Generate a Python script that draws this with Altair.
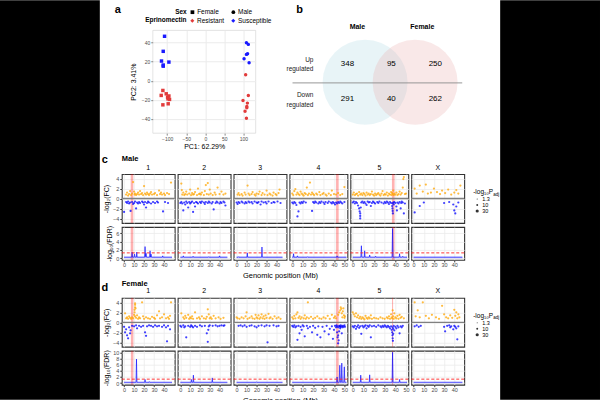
import altair as alt
import pandas as pd

FONT = "Liberation Sans"
GRID = "#ebebeb"
BORDER = "#333333"
TICKLAB = "#4d4d4d"
ORANGE = "#FFA500"
BLUE = "#0000FF"

# ---------------- panel a : PCA ----------------
PCA_PC1 = [-107, -110.5, -115, -110.5, -110.5, -95.6,
           -111.4, -115.8, -102.6, -99, -95.6, -98, -93.9, -111.4, -97.4,
           108, 113, 108, 111, 101.8, 115,
           106, 113, 99, 110.5, 109, 109, 104.4, 108]
PCA_PC2 = [46.7, 30.9, 20.7, 16.5, 15.3, 19.6,
           -10.2, -15.4, -13.7, -17.2, -16, -19, -19.6, -25.3, -24.2,
           40, 38.2, 27.7, 28.4, 23.2, 19,
           6.3, -15.4, -20.7, -23.5, -27, -28.4, -32, -39.3]
PCA_SEX = ["Female"] * 15 + ["Male"] * 14
PCA_GROUP = ["Susceptible"] * 6 + ["Resistant"] * 9 + ["Susceptible"] * 6 + ["Resistant"] * 8

# ---------------- panel b : Venn ----------------
VENN_SETS = ["Male", "Female"]
VENN_UP = [348, 95, 250]
VENN_DOWN = [291, 40, 262]

# ---------------- panels c/d ----------------
CHROMS = ["1", "2", "3", "4", "5", "X"]
CHR_DOMAIN = [[-2.3, 50.7], [-2.7, 51.3], [-3.0, 50.0], [-2.6, 52.9], [-2.2, 52.2], [-2.3, 49.8]]
CHR_WIDTH = [53, 53, 53, 58, 58, 53]
CHR_TICKS = [[0, 10, 20, 30, 40], [0, 10, 20, 30, 40], [0, 10, 20, 30, 40],
             [0, 10, 20, 30, 40, 50], [0, 10, 20, 30, 40, 50], [0, 10, 20, 30, 40]]
PADJ_LEVELS = [1.3, 10, 30]

# Male log2FC (position Mb, value)
M1_UP = [(2,0.8),(3,1.2),(4,0.6),(5,0.9),(6,1.5),(7,0.7),(8,1.0),(9,3.3),(10,1.4),(10.5,0.8),(11,1.0),(12,0.7),(13,0.9),(14,1.2),(15,0.8),(16,1.5),(17,0.9),(18,1.1),(19,0.7),(20,2.5),(21,1.0),(22,0.8),(23,1.2),(24,0.9),(25,0.7),(26,1.0),(27,1.3),(28,0.8),(30,0.9),(31,1.1),(33,0.7),(35,1.6),(36,0.9),(37,1.2),(38,0.8),(40,1.0),(41,0.7),(43,1.1),(45,0.9),(47,3.2)]
M1_DN = [(0,-2.7),(2,-0.7),(3,-0.9),(4,-0.6),(5,-1.0),(6,-0.8),(6.5,-2.5),(8,-0.7),(9,-1.1),(10,-0.9),(11,-0.6),(12,-2.0),(13,-0.8),(14,-1.0),(15,-0.7),(16,-0.9),(18,-0.6),(19,-0.8),(20,-1.2),(21,-0.7),(22,-1.8),(23,-0.9),(24,-0.6),(25,-0.8),(27,-1.0),(29,-0.7),(31,-0.9),(33,-0.6),(34,-0.8),(39,-2.6),(41,-0.7),(44,-0.9)]
M2_UP = [(1,3.0),(1.5,1.7),(2,0.8),(3,1.2),(4,0.7),(5,0.9),(6,1.4),(7,0.8),(9,1.0),(10,1.8),(11,0.7),(12,1.1),(13,0.8),(14,0.9),(15,1.3),(17,0.7),(18,2.0),(19,0.9),(20,1.0),(21,0.8),(22,1.2),(24,0.7),(25,1.5),(26,2.7),(27,0.9),(28,3.1),(29,0.8),(30,1.8),(31,1.0),(33,0.7),(35,1.2),(36,0.8),(38,2.2),(40,0.9),(42,1.4),(44,0.8),(46,1.0)]
M2_DN = [(0,-0.9),(1,-0.7),(2,-1.0),(3,-2.4),(4,-0.8),(5,-1.2),(6,-0.6),(7,-0.9),(8,-1.8),(9,-0.7),(10,-1.0),(11,-0.8),(12,-0.6),(13,-2.7),(14,-0.9),(15,-1.6),(16,-0.7),(17,-0.8),(18,-1.0),(20,-0.7),(21,-0.9),(22,-0.6),(24,-0.8),(25,-1.1),(26,-0.7),(28,-0.9),(29,-0.6),(30,-0.8),(32,-1.0),(33,-0.7),(34,-2.2),(36,-0.9),(37,-0.6),(38,-0.8),(40,-1.0),(41,-0.7),(42,-0.9),(44,-0.6),(45,-0.8),(46,-1.4)]
M3_UP = [(1,0.8),(2,1.1),(3,0.7),(5,0.9),(6,0.6),(8,1.2),(9,0.8),(11,2.6),(12,1.0),(13,0.7),(15,0.9),(16,1.3),(18,0.8),(19,0.6),(20,1.0),(22,0.9),(23,1.4),(25,0.7),(26,1.1),(28,0.8),(30,1.6),(31,0.7),(33,1.0),(34,0.8),(36,0.6),(37,1.2),(39,0.9),(40,0.7),(42,1.1),(43,1.8)]
M3_DN = [(0,-0.8),(1,-1.1),(2,-0.7),(3,-0.9),(5,-0.6),(6,-0.8),(8,-1.0),(9,-0.7),(10,-0.9),(12,-0.6),(13,-0.8),(15,-0.7),(16,-1.0),(18,-0.6),(20,-0.8),(21,-0.9),(22,-0.7),(24,-1.2),(25,-0.6),(27,-0.8),(29,-0.7),(30,-1.0),(32,-0.6),(35,-0.9),(37,-0.7),(38,-0.8),(41,-0.6),(44,-0.9)]
M4_UP = [(0,1.0),(1,0.7),(2,1.5),(3,1.9),(4,0.8),(5,1.2),(6,0.9),(7,0.7),(8,1.4),(9,1.0),(10,0.8),(11,0.6),(12,1.1),(13,0.9),(14,2.2),(15,0.7),(16,1.0),(17,3.2),(18,0.8),(19,1.2),(20,0.9),(21,0.7),(23,1.0),(24,0.8),(26,1.3),(27,0.7),(29,0.9),(30,1.1),(32,0.8),(33,0.6),(35,1.0),(37,0.7),(38,1.6),(40,0.9),(42,0.8),(44,1.1),(46,0.7),(48,0.9),(50,2.3)]
M4_DN = [(0,-0.8),(1,-1.0),(2,-0.7),(3,-0.9),(4,-1.3),(5,-3.6),(6,-2.6),(7,-0.8),(8,-1.0),(9,-0.7),(10,-0.9),(11,-0.6),(13,-0.8),(19,-2.5),(20,-0.7),(21,-0.9),(22,-0.6),(23,-0.8),(25,-1.0),(26,-0.7),(27,-0.9),(28,-0.6),(30,-0.8),(31,-1.1),(32,-0.7),(34,-0.9),(35,-0.6),(37,-0.8),(38,-1.0),(39,-0.7),(40,-0.9),(41,-1.2),(42,-0.8),(43,-1.0),(44,-0.7),(45,-0.9),(46,-0.6),(47,-0.8),(48,-1.0),(50,-0.7)]
M5_UP = [(0,0.8),(1,1.2),(2,0.7),(3,0.9),(4,1.0),(5,0.6),(6,1.3),(7,0.8),(8,1.0),(9,0.7),(10,1.1),(11,0.9),(12,0.6),(13,1.2),(14,0.8),(15,1.0),(16,0.7),(17,0.9),(18,1.4),(19,0.8),(20,0.6),(21,1.0),(22,0.7),(23,0.9),(24,1.1),(25,0.8),(26,0.6),(27,1.0),(28,1.5),(29,0.7),(30,0.9),(31,0.8),(32,1.2),(33,0.6),(34,1.0),(35,0.8),(36,1.3),(36.5,0.7),(37,1.1),(37.5,0.9),(38,1.6),(38.5,0.7),(39,1.0),(40,0.8),(41,1.2),(42,0.7),(43,0.9),(44,1.4),(45,0.8),(46,1.1),(47,2.2),(47.5,3.9),(48,4.3),(49,0.9),(50,1.0)]
M5_DN = [(0,-0.8),(1,-0.6),(2,-1.0),(3,-0.7),(4,-0.9),(5,-1.4),(6,-2.0),(6.5,-2.6),(7,-3.0),(7,-3.5),(7,-4.0),(7.5,-1.8),(8,-0.8),(9,-0.6),(10,-0.9),(11,-0.7),(12,-1.0),(13,-1.3),(14,-0.6),(15,-0.8),(16,-0.7),(17,-1.5),(18,-0.9),(19,-0.6),(20,-0.8),(21,-1.0),(23,-0.7),(24,-0.9),(25,-0.6),(27,-0.8),(29,-1.0),(30,-0.7),(31,-0.9),(32,-0.6),(33,-0.8),(34,-1.1),(35,-0.7),(36,-0.9),(37,-1.5),(37.3,-2.0),(37.5,-2.5),(37.7,-3.0),(37.5,-1.0),(38,-0.8),(38.5,-1.2),(39,-0.7),(40,-0.9),(41,-1.6),(41.5,-2.4),(42,-0.8),(43,-1.0),(44,-0.7),(45,-2.0),(45.5,-0.9),(46,-0.6),(47,-0.8),(48,-3.0),(49,-1.0)]
MX_UP = [(1,2.0),(3,1.0),(6,2.6),(9,1.4),(12,2.8),(14,1.0),(17,1.2),(20,2.0),(23,1.3),(26,0.9),(28,1.6),(31,1.1),(34,1.8),(37,0.8),(40,1.2),(42,1.7),(44,1.0),(46,2.6)]
MX_DN = [(1,-2.8),(6,-1.5),(10,-0.8),(30,-0.9),(35,-0.7),(39,-1.2),(40,-2.4),(41,-3.0),(42,-1.6),(44,-0.8)]

# Male -log10(FDR)
M1_FDR = [(0,0.3),(7.5,0.3),(8,1.5),(8.5,0.3),(10,0.3),(10.5,1.0),(11,0.3),(12.3,0.3),(12.7,1.5),(13.1,0.3),(20.5,0.3),(21,2.8),(21.5,0.4),(22,1.2),(22.5,0.3),(25.5,0.3),(26,1.8),(26.5,0.3),(27,1.0),(27.5,0.3),(38.3,0.3),(38.7,0.6),(39.1,0.3),(48,0.3)]
M2_FDR = [(0,0.3),(2.6,0.3),(3,0.6),(3.4,0.3),(12.6,0.3),(13,0.5),(13.4,0.3),(28.6,0.3),(29,0.4),(29.4,0.3),(39.6,0.3),(40,0.6),(40.4,0.3),(48,0.3)]
M3_FDR = [(0,0.3),(1.6,0.3),(2,0.4),(2.4,0.3),(10.3,0.3),(10.7,1.3),(11.1,0.3),(25,0.3),(25.4,2.7),(25.8,0.3),(46,0.3)]
M4_FDR = [(0,0.3),(0.9,0.3),(1.3,1.1),(1.7,0.3),(4.6,0.3),(5,0.6),(5.4,0.3),(14.3,0.3),(14.7,0.4),(15.1,0.3),(42.6,0.3),(43,0.6),(43.4,0.3),(52,0.3)]
M5_FDR = [(0,0.3),(7.6,0.3),(8.1,3.0),(8.6,0.3),(10.8,0.3),(11.2,1.8),(11.6,0.3),(15.5,0.3),(15.9,0.8),(16.3,0.3),(21.1,0.3),(21.5,0.5),(21.9,0.3),(36.9,0.3),(37.4,7.1),(37.9,0.3),(43.6,0.3),(44,1.1),(44.4,0.3),(46.6,0.3),(47,0.5),(47.4,0.3),(51,0.3)]
MX_FDR = [(0,0.3),(48,0.3)]

# Female log2FC
F1_UP = [(1,1.8),(2,0.8),(3,1.0),(4,0.7),(5,1.2),(6,0.9),(7,0.7),(8,1.0),(9,0.8),(10,1.5),(10.5,2.0),(10.5,2.5),(11,3.0),(11,3.5),(11,3.8),(11.5,2.8),(11,1.2),(12,0.9),(13,1.4),(14,0.7),(15,1.0),(16,0.8),(18,4.0),(19,1.2),(20,0.7),(22,1.0),(24,0.8),(26,0.7),(28,1.1),(30,0.9),(31,0.7),(33,1.4),(35,2.2),(36,0.8),(38,1.0),(40,1.6),(42,0.8),(44,1.0),(45,0.7),(46,1.3),(47,4.0)]
F1_DN = [(0,-0.9),(1,-2.0),(2,-1.4),(3,-2.6),(4,-3.2),(5,-1.0),(6,-2.2),(6.5,-1.6),(8,-0.7),(10,-0.8),(12,-0.6),(13,-1.2),(15,-0.7),(17,-0.9),(19,-0.7),(21,-2.0),(22,-2.7),(23,-0.8),(25,-0.6),(27,-0.7),(29,-0.9),(31,-0.6),(33,-0.8),(35,-0.7),(38,-0.9),(40,-0.6),(42,-1.0),(43,-3.8),(44,-0.7),(46,-1.4)]
F2_UP = [(1,1.8),(3,1.0),(4,0.7),(5,1.3),(6,0.9),(8,1.5),(9,0.7),(10,1.0),(11,0.8),(12,1.2),(13,0.7),(15,2.0),(17,0.8),(19,1.0),(20,0.7),(22,1.2),(24,0.8),(26,0.7),(27,1.1),(28,2.6),(29,1.6),(30,0.8),(31,1.0),(32,0.7),(34,1.3),(36,0.8),(39,1.0),(41,0.7),(44,0.9)]
F2_DN = [(0,-0.7),(1,-0.9),(3,-0.6),(4,-1.0),(5,-0.8),(6,-3.0),(8,-0.7),(10,-0.9),(11,-0.6),(12,-0.8),(13,-1.0),(15,-0.7),(17,-0.9),(20,-0.6),(22,-0.8),(25,-0.7),(27,-2.2),(28,-3.9),(28.5,-1.5),(29,-0.8),(30,-0.6),(33,-0.7),(36,-0.6),(38,-0.8),(40,-0.7),(42,-0.6),(44,-0.7),(45,-0.6)]
F3_UP = [(0,1.0),(1,0.8),(3,0.7),(5,1.0),(7,0.8),(9,1.2),(10,2.0),(11,0.7),(13,0.9),(15,1.2),(16,0.8),(18,0.7),(19,1.5),(20,1.0),(21,0.8),(22,1.4),(23,0.7),(24,1.0),(25,1.6),(26,0.8),(27,1.2),(28,0.7),(29,1.4),(30,0.9),(32,1.7),(33,0.8),(34,1.0),(36,0.7),(38,1.2),(40,0.8),(42,1.0),(44,0.7)]
F3_DN = [(2,-0.7),(4,-0.6),(6,-0.8),(8,-0.6),(10,-0.9),(13,-0.7),(15,-0.6),(18,-0.8),(20,-1.0),(22,-0.7),(25,-0.6),(28,-0.8),(30,-0.6),(31,-4.0),(33,-0.7),(37,-0.6),(40,-0.8),(42,-0.7)]
F4_UP = [(0,1.0),(1,0.7),(2,1.3),(3,0.8),(4,1.6),(5,2.0),(6,0.9),(7,1.2),(8,0.7),(9,1.0),(11,0.8),(12,1.4),(13,0.7),(14,1.0),(15,4.0),(16,0.8),(18,1.1),(20,0.7),(22,0.9),(24,1.2),(26,0.8),(28,0.7),(30,1.0),(32,0.8),(34,1.3),(36,0.7),(38,1.5),(40,0.9),(41,1.2),(42,0.8),(44,1.5),(45,2.0),(46,2.4),(46.5,3.0),(47,2.7),(47.5,1.8),(48,1.0),(48.5,2.2),(49,2.8),(49.5,1.4),(50,0.9),(50.5,1.2)]
F4_DN = [(0,-0.7),(1,-0.9),(2,-0.6),(3,-1.0),(4,-0.8),(5,-3.5),(6,-0.7),(7,-2.2),(8,-0.9),(9,-1.5),(10,-0.6),(11,-0.8),(12,-2.8),(14,-0.7),(15,-1.2),(17,-0.9),(19,-2.0),(20,-0.7),(22,-1.1),(24,-2.5),(25,-0.8),(27,-3.0),(29,-0.9),(31,-1.8),(33,-0.7),(35,-2.4),(36,-1.3),(38,-0.8),(39,-3.3),(40,-1.5),(41,-0.7),(42,-1.0),(42.5,-0.6),(43,-2.0),(43,-0.8),(43.5,-3.0),(44,-4.2),(44,-2.6),(44,-1.0),(44.5,-3.6),(45,-1.8),(45,-0.7),(45.5,-0.8),(46,-1.2),(46,-0.9),(46.5,-0.6),(47,-0.9),(47.5,-2.2),(48,-0.7),(48.5,-1.0),(49,-0.8),(50,-0.6),(50.5,-0.9)]
F5_UP = [(0,2.0),(1,1.6),(2,1.2),(3,1.8),(4,1.0),(5,1.4),(6,0.8),(7,1.1),(8,0.7),(9,1.0),(10,0.8),(11,0.6),(12,1.3),(13,0.9),(14,0.7),(15,1.0),(16,0.8),(17,1.4),(18,0.7),(20,0.9),(22,0.8),(24,0.7),(26,1.0),(28,0.8),(30,0.7),(32,1.0),(33,0.8),(34,1.2),(35,0.7),(36,1.6),(36.5,1.0),(37,0.8),(37.5,2.4),(38,1.2),(38.5,0.7),(39,1.8),(40,1.0),(41,0.8),(42,1.3),(43,0.7),(44,1.5),(45,0.9),(46,1.1),(48,0.8)]
F5_DN = [(0,-0.8),(1,-1.0),(2,-0.7),(3,-1.3),(4,-0.9),(5,-0.6),(6,-1.1),(7,-0.8),(8,-2.3),(9,-0.7),(10,-1.0),(11,-0.8),(12,-0.6),(13,-1.2),(14,-0.7),(15,-0.9),(16,-0.6),(17,-3.0),(18,-0.8),(20,-0.7),(22,-0.9),(24,-0.6),(26,-0.8),(27,-1.0),(28,-0.7),(29,-0.9),(30,-0.6),(31,-0.8),(32,-1.0),(33,-0.7),(34,-0.9),(35,-1.2),(36,-0.8),(36.5,-1.5),(37,-2.0),(37.3,-2.6),(37.5,-3.2),(37.7,-3.7),(37.5,-1.0),(38,-2.3),(38,-1.3),(38.5,-0.7),(39,-1.6),(40,-0.9),(41,-1.2),(42,-0.7),(43,-1.0),(44,-2.2),(45,-0.8),(46,-1.0),(47,-0.7)]
FX_UP = [(1,4.0),(2,1.2),(4,2.4),(6,1.0),(9,4.0),(12,1.3),(15,0.8),(18,1.5),(22,1.0),(25,0.7),(28,3.3),(30,1.6),(32,1.0),(34,0.8),(36,1.4),(38,0.9),(40,2.5),(41,1.3),(42,2.0),(43,0.8),(44,1.6),(45,1.0)]
FX_DN = [(1,-0.8),(3,-0.6),(5,-0.9),(7,-0.7),(30,-0.9),(31,-1.8),(33,-0.7),(35,-0.6),(36,-1.0),(37,-0.8),(39,-1.4),(40,-0.7),(41,-0.9),(42,-1.2),(43,-3.4),(44,-0.8)]

# Female -log10(FDR)
F1_FDR = [(0,0.3),(11.9,0.3),(12.4,7.8),(12.9,0.3),(20.6,0.3),(21,1.2),(21.4,0.3),(24.9,0.3),(25.3,0.5),(25.7,0.3),(48,0.3)]
F2_FDR = [(0,0.3),(10.9,0.3),(11.3,1.2),(11.8,0.3),(12.9,0.3),(13.3,2.6),(13.7,0.3),(32.2,0.3),(32.6,1.7),(33,0.3),(48,0.3)]
F3_FDR = [(0,0.3),(19.6,0.3),(20,0.4),(20.4,0.3),(46,0.3)]
F4_FDR = [(0,0.3),(42.6,0.3),(43,2.0),(43.4,0.3),(45,0.3),(45.6,5.8),(46.2,0.3),(47,0.3),(47.5,6.5),(48,0.3),(49.4,0.3),(49.9,5.3),(50.4,0.3),(52,0.3)]
F5_FDR = [(0,0.3),(7.1,0.3),(7.5,2.6),(7.9,0.3),(15.5,0.3),(15.9,2.7),(16.3,0.3),(36.9,0.3),(37.4,10.0),(37.9,0.3),(43.6,0.3),(44,1.2),(44.4,0.3),(51,0.3)]
FX_FDR = [(0,0.3),(48,0.3)]

# QTL bands (start, end Mb) per chromosome, None when absent
MALE_BANDS = [(6.6, 9.2), None, None, (42.0, 44.5), (36.8, 39.3), None]
FEMALE_BANDS = [(6.8, 9.3), None, None, (42.0, 44.5), (36.9, 37.9), None]

MALE_UP = [M1_UP, M2_UP, M3_UP, M4_UP, M5_UP, MX_UP]
MALE_DN = [M1_DN, M2_DN, M3_DN, M4_DN, M5_DN, MX_DN]
MALE_FDR = [M1_FDR, M2_FDR, M3_FDR, M4_FDR, M5_FDR, MX_FDR]
FEMALE_UP = [F1_UP, F2_UP, F3_UP, F4_UP, F5_UP, FX_UP]
FEMALE_DN = [F1_DN, F2_DN, F3_DN, F4_DN, F5_DN, FX_DN]
FEMALE_FDR = [F1_FDR, F2_FDR, F3_FDR, F4_FDR, F5_FDR, FX_FDR]


def one():
    return pd.DataFrame({"k": [0]})


def label(text, x, y, size, weight="normal", align="center", color="black"):
    return alt.Chart(one()).mark_text(
        text=text, fontSize=size, fontWeight=weight, align=align,
        baseline="middle", color=color, font=FONT
    ).encode(x=alt.value(x), y=alt.value(y))


def block(w, h, color, opacity, top=0, bottom=0):
    # rect reaching `top` px above and `bottom` px below the view fixes the row's bounds
    return alt.Chart(one()).mark_rect(color=color, opacity=opacity).encode(
        x=alt.value(0), x2=alt.value(w), y=alt.value(-top), y2=alt.value(h + bottom)
    ).properties(width=w, height=h, view=alt.ViewBackground(strokeWidth=0))


def spacer(w, h, top=0, bottom=0):
    return block(w, h, "white", 0, top, bottom)


def black(w, h, top):
    return block(w, h - top, "black", 1, top, 0)


def pairs_df(pairs):
    return pd.DataFrame({"pos": [p[0] for p in pairs], "v": [p[1] for p in pairs]})


def header_layers(i, base, header):
    # strip label and (first panel) sex title + panel letter, placed above y = base
    sex, letter, title_dy, letter_dy = header
    out = [label(CHROMS[i], CHR_WIDTH[i] / 2, base - 6, 7)]
    if i == 0:
        out.append(label(sex, 0, base + title_dy, 7.5, weight="bold", align="left"))
        out.append(label(letter, -17, base + letter_dy, 11, weight="bold"))
    return out


def fc_chart(up, dn, band, i, ydom, header):
    w = CHR_WIDTH[i]
    xs = alt.Scale(domain=CHR_DOMAIN[i], nice=False, zero=False)
    ys = alt.Scale(domain=ydom, nice=False, zero=False)
    xax = alt.Axis(values=CHR_TICKS[i], labels=False, ticks=False, domain=False,
                   title="", gridColor=GRID, gridWidth=0.8)
    if i == 0:
        yax = alt.Axis(values=[-4, -2, 0, 2, 4], title="-log₂(FC)", labelFontSize=5.5,
                       labelColor=TICKLAB, tickSize=2, tickColor=BORDER, labelPadding=1,
                       domain=False, gridColor=GRID, gridWidth=0.8, titleFontSize=7,
                       titleFontWeight="normal", titlePadding=3, labelOverlap=False)
    else:
        yax = alt.Axis(values=[-4, -2, 0, 2, 4], labels=False, ticks=False, domain=False,
                       title="", gridColor=GRID, gridWidth=0.8)
    layers = []
    if band is not None:
        layers.append(alt.Chart(pd.DataFrame({"s": [band[0]], "e": [band[1]]}))
                      .mark_rect(color="#ff0000", opacity=0.3)
                      .encode(x=alt.X("s:Q", scale=xs, axis=xax), x2="e:Q"))
    layers.append(alt.Chart(pd.DataFrame({"z": [0]}))
                  .mark_rule(color="#808080", strokeWidth=1.3)
                  .encode(y=alt.Y("z:Q", scale=ys, axis=yax)))
    for data, col in ((up, ORANGE), (dn, BLUE)):
        layers.append(alt.Chart(pairs_df(data))
                      .mark_circle(color=col, size=5, opacity=0.75)
                      .encode(x=alt.X("pos:Q", scale=xs, axis=xax),
                              y=alt.Y("v:Q", scale=ys, axis=yax)))
    if header is not None:
        layers += header_layers(i, 0, header)
    return alt.layer(*layers).properties(
        width=w, height=49, view=alt.ViewBackground(stroke=BORDER, strokeWidth=1.1))


def fdr_chart(series, band, i, ydom, yticks, h, next_header=None, next_base=0):
    w = CHR_WIDTH[i]
    xs = alt.Scale(domain=CHR_DOMAIN[i], nice=False, zero=False)
    ys = alt.Scale(domain=ydom, nice=False, zero=False)
    xax = alt.Axis(values=CHR_TICKS[i], title="", labelFontSize=5.5, labelColor=TICKLAB,
                   tickSize=2, tickColor=BORDER, labelPadding=1, domain=False,
                   gridColor=GRID, gridWidth=0.8, labelOverlap=False, labelFlush=False)
    if i == 0:
        yax = alt.Axis(values=yticks, title="-log₁₀(FDR)", labelFontSize=5.5,
                       labelColor=TICKLAB, tickSize=2, tickColor=BORDER, labelPadding=1,
                       domain=False, gridColor=GRID, gridWidth=0.8, titleFontSize=7,
                       titleFontWeight="normal", titlePadding=3, labelOverlap=False,
                       labelFlush=False)
    else:
        yax = alt.Axis(values=yticks, labels=False, ticks=False, domain=False, title="",
                       gridColor=GRID, gridWidth=0.8)
    layers = []
    if band is not None:
        layers.append(alt.Chart(pd.DataFrame({"s": [band[0]], "e": [band[1]]}))
                      .mark_rect(color="#ff0000", opacity=0.3)
                      .encode(x=alt.X("s:Q", scale=xs, axis=xax), x2="e:Q"))
    df = pairs_df(series)
    layers.append(alt.Chart(df).mark_area(color=BLUE, opacity=0.3)
                  .encode(x=alt.X("pos:Q", scale=xs, axis=xax),
                          y=alt.Y("v:Q", scale=ys, axis=yax)))
    layers.append(alt.Chart(df).mark_line(color=BLUE, strokeWidth=0.6)
                  .encode(x=alt.X("pos:Q", scale=xs, axis=xax),
                          y=alt.Y("v:Q", scale=ys, axis=yax)))
    layers.append(alt.Chart(pd.DataFrame({"z": [1.3]}))
                  .mark_rule(color="#ff2020", strokeWidth=0.9, strokeDash=[3, 2])
                  .encode(y=alt.Y("z:Q", scale=ys, axis=yax)))
    if i == 2:
        layers.append(label("Genomic position (Mb)", 47, h + 16, 7.5))
    if next_header is not None:
        layers += header_layers(i, next_base, next_header)
    return alt.layer(*layers).properties(
        width=w, height=h, view=alt.ViewBackground(stroke=BORDER, strokeWidth=1.1))


def size_legend():
    df = pd.DataFrame({"v": PADJ_LEVELS, "lab": [str(v) for v in PADJ_LEVELS],
                       "i": list(range(len(PADJ_LEVELS)))})
    ysc = alt.Scale(domain=[0, 2], range=[25, 37])
    pts = alt.Chart(df).mark_circle(color="#333333", opacity=1).encode(
        x=alt.value(10),
        y=alt.Y("i:Q", scale=ysc, axis=None),
        size=alt.Size("v:Q", scale=alt.Scale(domain=[1.3, 30], range=[1, 10]), legend=None))
    txt = alt.Chart(df).mark_text(align="left", baseline="middle", fontSize=5.5,
                                  color="black", font=FONT).encode(
        x=alt.value(15), y=alt.Y("i:Q", scale=ysc, axis=None), text="lab:N")
    t1 = label("-log₁₀P", 6, 18, 6.5, align="left")
    t2 = label("adj", 26, 20.5, 4.5, align="left")
    return alt.layer(pts, txt, t1, t2).properties(
        width=32, height=49, view=alt.ViewBackground(strokeWidth=0))


MALE_HEADER = ("Male", "c", -15, -14)
FEMALE_HEADER = ("Female", "d", -13, -9)

# ---------------- build panel a ----------------
RED = "#e23b3b"
BLU = "#1a1aff"
pca_df = pd.DataFrame({"PC1": PCA_PC1, "PC2": PCA_PC2, "Sex": PCA_SEX,
                       "Eprinomectin": PCA_GROUP})
pxs = alt.Scale(domain=[-138, 132], nice=False, zero=False)
pys = alt.Scale(domain=[-55, 53], nice=False, zero=False)
pxax = alt.Axis(values=[-100, -50, 0, 50, 100], title="PC1: 62.29%", labelFontSize=5,
                labelColor=TICKLAB, tickSize=2, tickColor="#888888", labelPadding=1,
                domain=False, gridColor=GRID, titleFontSize=7, titleFontWeight="normal",
                titlePadding=1, labelOverlap=False, labelFlush=False)
pyax = alt.Axis(values=[-40, -20, 0, 20, 40], title="PC2: 3.41%", labelFontSize=5,
                labelColor=TICKLAB, tickSize=2, tickColor="#888888", labelPadding=1,
                domain=False, gridColor=GRID, titleFontSize=7, titleFontWeight="normal",
                titlePadding=5, labelOverlap=False, labelFlush=False)
pca_pts = alt.Chart(pca_df).mark_point(filled=True, size=12, opacity=1).encode(
    x=alt.X("PC1:Q", scale=pxs, axis=pxax),
    y=alt.Y("PC2:Q", scale=pys, axis=pyax),
    shape=alt.Shape("Sex:N", scale=alt.Scale(domain=["Female", "Male"],
                                             range=["square", "circle"]),
                    legend=alt.Legend(title="Sex", orient="none", legendX=22.5, legendY=-21.5,
                                      direction="horizontal", titleOrient="left",
                                      titleFontSize=6.5, titleFontWeight="bold",
                                      labelFontSize=6.5, symbolSize=14,
                                      symbolFillColor="black", symbolStrokeWidth=0,
                                      columnPadding=11, padding=0, titlePadding=2,
                                      labelOffset=1.5, titleColor="black",
                                      labelColor="black")),
    color=alt.Color("Eprinomectin:N",
                    scale=alt.Scale(domain=["Resistant", "Susceptible"], range=[RED, BLU]),
                    legend=alt.Legend(title="Eprinomectin", orient="none", legendX=-7.6,
                                      legendY=-13, direction="horizontal",
                                      titleOrient="left", titleFontSize=6.5,
                                      titleFontWeight="bold", labelFontSize=6.5,
                                      symbolType="diamond", symbolSize=16,
                                      symbolStrokeWidth=0, columnPadding=5, padding=0,
                                      titlePadding=2, labelOffset=1.5, titleColor="black",
                                      labelColor="black")))
pca = alt.layer(pca_pts, label("a", -35, -20, 11, weight="bold")).properties(
    width=103, height=103, view=alt.ViewBackground(stroke="#d0d0d0", strokeWidth=0.6))

# ---------------- build panel b ----------------
vxs = alt.Scale(domain=[0, 190], nice=False, zero=False)
vys = alt.Scale(domain=[0, 103], nice=False, zero=False)
circ_left = alt.Chart(pd.DataFrame({"cx": [85.7], "cy": [51]})).mark_circle(
    color="#a6d5df", opacity=0.26, size=7238).encode(
    x=alt.X("cx:Q", scale=vxs, axis=None), y=alt.Y("cy:Q", scale=vys, axis=None))
circ_right = alt.Chart(pd.DataFrame({"cx": [135.8], "cy": [51]})).mark_circle(
    color="#e9a5a5", opacity=0.26, size=7238).encode(
    x=alt.X("cx:Q", scale=vxs, axis=None), y=alt.Y("cy:Q", scale=vys, axis=None))
venn_line = alt.Chart(pd.DataFrame({"x1": [13], "x2": [183], "y": [50.3]})).mark_rule(
    color="#8c8c8c", strokeWidth=0.9).encode(
    x=alt.X("x1:Q", scale=vxs, axis=None), x2="x2:Q", y=alt.Y("y:Q", scale=vys, axis=None))
num_df = pd.DataFrame({
    "x": [68, 112, 156, 68, 112, 156],
    "y": [69, 69, 69, 34, 34, 34],
    "t": [str(v) for v in VENN_UP + VENN_DOWN]})
venn_nums = alt.Chart(num_df).mark_text(fontSize=8, color="black", font=FONT).encode(
    x=alt.X("x:Q", scale=vxs, axis=None), y=alt.Y("y:Q", scale=vys, axis=None), text="t:N")
head_df = pd.DataFrame({"x": [78, 143], "y": [106, 106], "t": VENN_SETS})
venn_heads = alt.Chart(head_df).mark_text(fontSize=7, fontWeight="bold", color="black",
                                          font=FONT).encode(
    x=alt.X("x:Q", scale=vxs, axis=None), y=alt.Y("y:Q", scale=vys, axis=None), text="t:N")
side_df = pd.DataFrame({"x": [34, 34, 34, 34], "y": [73, 64, 38, 28],
                        "t": ["Up", "regulated", "Down", "regulated"]})
venn_side = alt.Chart(side_df).mark_text(fontSize=6.5, align="right", color="#222222",
                                         font=FONT).encode(
    x=alt.X("x:Q", scale=vxs, axis=None), y=alt.Y("y:Q", scale=vys, axis=None), text="t:N")
venn = alt.layer(circ_left, circ_right, venn_line, venn_nums, venn_heads, venn_side,
                 label("b", 20, -20, 11, weight="bold")).properties(
    width=190, height=103, view=alt.ViewBackground(strokeWidth=0))

TOP = 30  # height above the first row of views (letters, legends)

row_ab = alt.hconcat(spacer(53, 103, top=TOP, bottom=20), pca, spacer(24, 103), venn,
                     spacing=0, bounds="flush").resolve_scale(color="independent",
                                                               shape="independent")

# ---------------- panels c / d ----------------
c_fc = alt.hconcat(spacer(19, 49, top=21),
                   *[fc_chart(MALE_UP[i], MALE_DN[i], MALE_BANDS[i], i, [-4.9, 4.9],
                              MALE_HEADER) for i in range(6)],
                   size_legend(), spacing=3, bounds="flush")
c_fdr = alt.hconcat(spacer(19, 33, top=3, bottom=37),
                    *[fdr_chart(MALE_FDR[i], MALE_BANDS[i], i, [-0.37, 7.47], [0, 2, 4, 6],
                                33, FEMALE_HEADER, 70) for i in range(6)],
                    spacing=3, bounds="flush")
d_fc = alt.hconcat(spacer(19, 49),
                   *[fc_chart(FEMALE_UP[i], FEMALE_DN[i], FEMALE_BANDS[i], i, [-4.9, 4.9],
                              None) for i in range(6)],
                   size_legend(), spacing=3, bounds="flush")
d_fdr = alt.hconcat(spacer(19, 34, top=3),
                    *[fdr_chart(FEMALE_FDR[i], FEMALE_BANDS[i], i, [-0.5, 10.5],
                                [0, 2, 4, 6, 8, 10], 34) for i in range(6)],
                    spacing=3, bounds="flush")

middle = alt.vconcat(row_ab, c_fc, c_fdr, d_fc, d_fdr, spacing=0,
                     bounds="full").resolve_scale(color="independent", shape="independent",
                                                  size="independent")

chart = alt.hconcat(black(100, 400, TOP), middle, black(100, 400, TOP), spacing=0,
                    bounds="full", padding=0, background="white").resolve_scale(
    color="independent", shape="independent", size="independent").configure(font=FONT)

chart.save("out.html", embed_options={"renderer": "svg", "actions": False})
